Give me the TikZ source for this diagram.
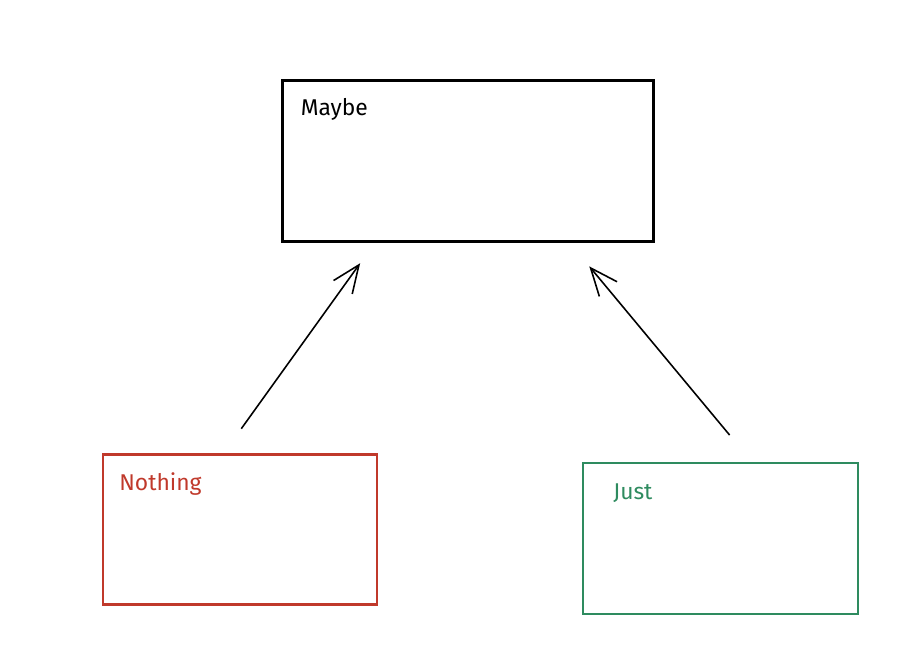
\documentclass[tikz,border=0pt]{standalone}
\usepackage{fontspec}
\setmainfont{Fira Sans}
\usetikzlibrary{positioning}
\usetikzlibrary{arrows.meta}

\definecolor{nothingred}{HTML}{C0392B}
\definecolor{justgreen}{HTML}{2E8B5F}

\tikzset{
  typebox/.style={draw,line width=1.2pt,rectangle,inner sep=0pt},
  typename/.style={anchor=north west,inner sep=0pt,font=\fontsize{13}{15}\selectfont},
  arrow/.style={line width=0.9pt,-{Straight Barb[length=0.55cm,width=0.46cm]}}
}

\begin{document}
\begin{tikzpicture}[x=0.02cm,y=-0.02cm]
  \useasboundingbox (0,0) rectangle (917,653);
  \node[typebox,minimum width=7.42cm,minimum height=3.22cm] (maybe) at (468,161) {};
  \node[typebox,nothingred,minimum width=5.48cm,minimum height=3.0cm] (nothing) at (240,529.5) {};
  \node[typebox,justgreen,minimum width=5.5cm,minimum height=3.02cm] (just) at (720.5,538.5) {};
  \node[typename] (maybename) at ([xshift=0.38cm,yshift=-0.38cm]maybe.north west) {Maybe};
  \node[typename,nothingred] (nothingname) at ([xshift=0.34cm,yshift=-0.38cm]nothing.north west) {Nothing};
  \node[typename,justgreen] (justname) at ([xshift=0.62cm,yshift=-0.42cm]just.north west) {Just};
  \draw[arrow,shorten <=0.61cm,shorten >=0.51cm]
    ([xshift=-0.33cm]nothing.north) -- ([xshift=-1.86cm]maybe.south);
  \draw[arrow,shorten <=0.7cm,shorten >=0.62cm]
    ([xshift=0.63cm]just.north) -- ([xshift=2.03cm]maybe.south);
\end{tikzpicture}
\end{document}
